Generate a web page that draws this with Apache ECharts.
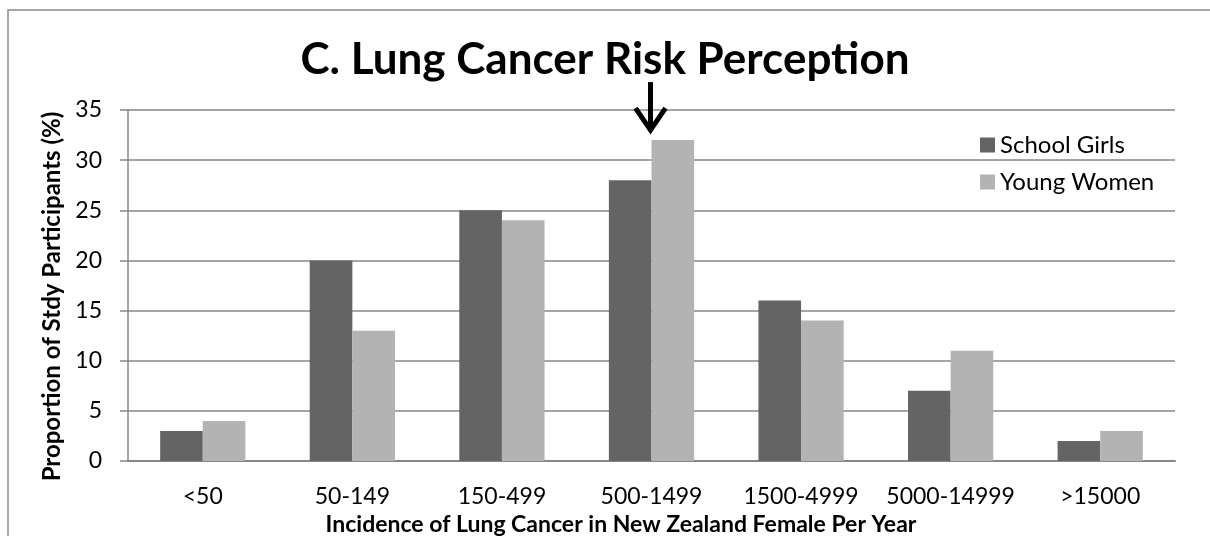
<!DOCTYPE html>
<html>
<head>
<meta charset="utf-8">
<title>C. Lung Cancer Risk Perception</title>
<script src="https://cdn.jsdelivr.net/npm/echarts@6/dist/echarts.min.js"></script>
<style>
  html, body { margin: 0; padding: 0; background: #ffffff; overflow: hidden; }
  #chart { width: 1210px; height: 536px; }
</style>
</head>
<body>
<div id="chart"></div>
<script>
// Incidence bands (cases per year among New Zealand females)
const categories = ['<50', '50-149', '150-499', '500-1499', '1500-4999', '5000-14999', '>15000'];
// Share of each group choosing the band (%)
const schoolGirls = [3, 20, 25, 28, 16, 7, 2];
const youngWomen = [4, 13, 24, 32, 14, 11, 3];
const seriesNames = ['School Girls', 'Young Women'];
// Band containing the actual incidence, marked with an arrow
const actualBand = '500-1499';

const FONT = 'Lato, "Open Sans", sans-serif';
const AXIS_GREY = '#878787';

const chart = echarts.init(document.getElementById('chart'), null, { renderer: 'canvas' });

chart.setOption({
  backgroundColor: '#ffffff',
  animation: false,
  title: {
    text: 'C. Lung Cancer Risk Perception',
    left: 'center',
    top: 33,
    textStyle: { fontFamily: FONT, fontSize: 44, fontWeight: 'bold', color: '#000000' }
  },
  legend: {
    orient: 'vertical',
    left: 975,
    top: 128,
    icon: 'rect',
    itemWidth: 15,
    itemHeight: 15,
    itemGap: 13,
    textStyle: { fontFamily: FONT, fontSize: 24, color: '#000000', lineHeight: 24 },
    data: seriesNames
  },
  grid: { left: 128, right: 35, top: 110, bottom: 75, containLabel: false, outerBoundsMode: 'none' },
  xAxis: {
    type: 'category',
    data: categories,
    name: 'Incidence of Lung Cancer in New Zealand Female Per Year',
    nameLocation: 'middle',
    nameGap: 49,
    nameTextStyle: { fontFamily: FONT, fontSize: 23, fontWeight: 'bold', color: '#000000', padding: [0, 61, 0, 0] },
    axisLine: { lineStyle: { color: AXIS_GREY, width: 2 } },
    axisTick: { show: false },
    axisLabel: { fontFamily: FONT, fontSize: 23, color: '#000000', margin: 24, interval: 0 }
  },
  yAxis: {
    type: 'value',
    min: 0,
    max: 35,
    interval: 5,
    name: 'Proportion of Stdy Participants (%)',
    nameLocation: 'middle',
    nameGap: 55,
    nameTextStyle: { fontFamily: FONT, fontSize: 24, fontWeight: 'bold', color: '#000000', padding: [0, 22, 0, 0] },
    axisLine: { show: true, lineStyle: { color: AXIS_GREY, width: 1.5 } },
    axisTick: { show: true, length: 8, lineStyle: { color: AXIS_GREY, width: 1.5 } },
    axisLabel: { fontFamily: FONT, fontSize: 23, color: '#000000', margin: 26 },
    splitLine: { lineStyle: { color: AXIS_GREY, width: 1.5 } }
  },
  series: [
    {
      name: seriesNames[0],
      type: 'bar',
      data: schoolGirls,
      itemStyle: { color: '#646464' },
      barGap: '0%',
      barCategoryGap: '43%'
    },
    {
      name: seriesNames[1],
      type: 'bar',
      data: youngWomen,
      itemStyle: { color: '#b3b3b3' },
      barGap: '0%',
      barCategoryGap: '43%'
    }
  ]
});

// Chart frame plus a down arrow above the band holding the actual incidence
function drawOverlay() {
  const idx = categories.indexOf(actualBand);
  const peak = Math.max(schoolGirls[idx], youngWomen[idx]);
  const tip = chart.convertToPixel({ gridIndex: 0 }, [actualBand, peak]);
  const x = tip[0] - 1;
  const yTip = tip[1] - 8;
  const yTail = yTip - 50;
  chart.setOption({
    graphic: [
      {
        type: 'rect',
        id: 'frame',
        silent: true,
        shape: { x: 8, y: 10, width: 1230, height: 560 },
        style: { fill: null, stroke: '#8c8c8c', lineWidth: 1.5 },
        z: 0
      },
      {
        type: 'polyline',
        id: 'arrowShaft',
        silent: true,
        shape: { points: [[x, yTail], [x, yTip - 3]] },
        style: { stroke: '#000000', lineWidth: 5, fill: null },
        z: 10
      },
      {
        type: 'polyline',
        id: 'arrowHead',
        silent: true,
        shape: { points: [[x - 15, yTip - 24], [x, yTip - 2], [x + 15, yTip - 24]] },
        style: { stroke: '#000000', lineWidth: 5, fill: null, lineJoin: 'miter' },
        z: 10
      }
    ]
  });
}
drawOverlay();
</script>
</body>
</html>
